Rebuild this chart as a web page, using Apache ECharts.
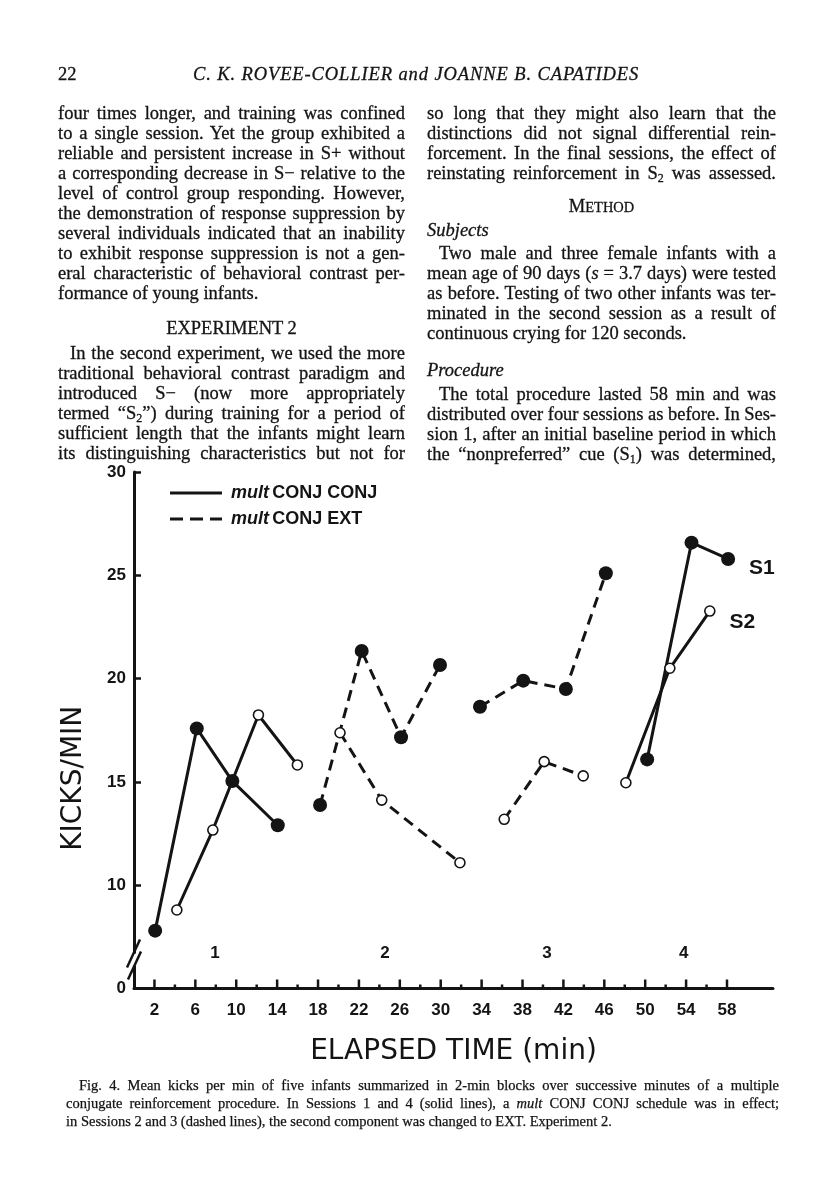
<!DOCTYPE html>
<html>
<head>
<meta charset="utf-8">
<script src="https://cdn.jsdelivr.net/npm/echarts@6/dist/echarts.min.js"></script>
<style>
html,body{margin:0;padding:0;background:#fff;}
#page{position:relative;width:816px;height:1200px;overflow:hidden;background:#fff;color:#141414;font-family:"Liberation Serif","DejaVu Serif",serif;}
#chart{position:absolute;left:0;top:0;width:816px;height:1200px;z-index:1;}
.ln{position:absolute;height:20px;line-height:20px;font-size:18.5px;white-space:nowrap;z-index:2;-webkit-text-stroke:0.3px #141414;}
.cap{font-size:14.5px;height:18px;line-height:18px;-webkit-text-stroke:0.25px #141414;}
sub{font-size:0.65em;vertical-align:-0.25em;line-height:0;}
</style>
</head>
<body>
<div id="page">
  <div id="chart"></div>
</div>
<script>
// ---------------- data ----------------
// [elapsed minute, kicks/min]
const sess1S1 = [[2.07, 7.80], [6.14, 17.59], [9.62, 15.04], [14.06, 12.90]];
const sess1S2 = [[4.19, 8.80], [7.71, 12.67], [12.17, 18.24], [15.98, 15.82]];
const sess2S1 = [[18.20, 13.88], [22.27, 21.34], [26.12, 17.16], [29.93, 20.66]];
const sess2S2 = [[20.15, 17.38], [24.23, 14.12], [31.88, 11.09]];
const sess3S1 = [[33.84, 18.64], [38.07, 19.90], [42.24, 19.50], [46.15, 25.10]];
const sess3S2 = [[36.21, 13.19], [40.12, 15.98], [43.94, 15.29]];
const sess4S1 = [[50.19, 16.09], [54.53, 26.58], [58.11, 25.79]];
const sess4S2 = [[48.11, 14.96], [52.41, 20.50], [56.32, 23.27]];

const xTickMinutes = [2, 4, 6, 8, 10, 12, 14, 16, 18, 20, 22, 24, 26, 28, 30, 32, 34, 36, 38, 40, 42, 44, 46, 48, 50, 52, 54, 56, 58];
const xTickLabels = [2, 6, 10, 14, 18, 22, 26, 30, 34, 38, 42, 46, 50, 54, 58];
const yTickValues = [5, 10, 15, 20, 25, 30];
const yTickLabels = ['0', '10', '15', '20', '25', '30'];

const sessionNames = ['1', '2', '3', '4'];
const sessionLabelAt = [[7.93, 6.72], [24.55, 6.72], [40.39, 6.72], [53.78, 6.72]];

const legendNames = ['mult CONJ CONJ', 'mult CONJ EXT'];
const stimulusNames = ['S1', 'S2'];

// ---------------- page text ----------------
const L = 58, LW = 347, R = 427, RW = 349;
const lines = [
  // [html, x, yCenter, width, mode]  mode: j=justify, l=left, c=center
  ['22', 58, 74, 40, 'l'],
  ['<i style="letter-spacing:0.9px">C. K. ROVEE-COLLIER and JOANNE B. CAPATIDES</i>', 150, 74, 532, 'c'],
  ['four times longer, and training was confined', L, 113, LW, 'j'],
  ['to a single session. Yet the group exhibited a', L, 133, LW, 'j'],
  ['reliable and persistent increase in S+ without', L, 153, LW, 'j'],
  ['a corresponding decrease in S\u2212 relative to the', L, 173, LW, 'j'],
  ['level of control group responding. However,', L, 193, LW, 'j'],
  ['the demonstration of response suppression by', L, 213, LW, 'j'],
  ['several individuals indicated that an inability', L, 233, LW, 'j'],
  ['to exhibit response suppression is not a gen-', L, 253, LW, 'j'],
  ['eral characteristic of behavioral contrast per-', L, 273, LW, 'j'],
  ['formance of young infants.', L, 293, LW, 'l'],
  ['EXPERIMENT 2', L, 328, LW, 'c'],
  ['In the second experiment, we used the more', L + 12, 353, LW - 12, 'j'],
  ['traditional behavioral contrast paradigm and', L, 373, LW, 'j'],
  ['introduced S\u2212 (now more appropriately', L, 393, LW, 'j'],
  ['termed \u201cS<sub>2</sub>\u201d) during training for a period of', L, 413, LW, 'j'],
  ['sufficient length that the infants might learn', L, 433, LW, 'j'],
  ['its distinguishing characteristics but not for', L, 453, LW, 'j'],
  ['so long that they might also learn that the', R, 113, RW, 'j'],
  ['distinctions did not signal differential rein-', R, 133, RW, 'j'],
  ['forcement. In the final sessions, the effect of', R, 153, RW, 'j'],
  ['reinstating reinforcement in S<sub>2</sub> was assessed.', R, 173, RW, 'j'],
  ['M<span style="font-size:0.78em">ETHOD</span>', R, 206, RW, 'c'],
  ['<i>Subjects</i>', R, 230, RW, 'l'],
  ['Two male and three female infants with a', R + 12, 253, RW - 12, 'j'],
  ['mean age of 90 days (<i>s</i> = 3.7 days) were tested', R, 273, RW, 'j'],
  ['as before. Testing of two other infants was ter-', R, 293, RW, 'j'],
  ['minated in the second session as a result of', R, 313, RW, 'j'],
  ['continuous crying for 120 seconds.', R, 333, RW, 'l'],
  ['<i>Procedure</i>', R, 370, RW, 'l'],
  ['The total procedure lasted 58 min and was', R + 12, 394, RW - 12, 'j'],
  ['distributed over four sessions as before. In Ses-', R, 414, RW, 'j'],
  ['sion 1, after an initial baseline period in which', R, 434, RW, 'j'],
  ['the \u201cnonpreferred\u201d cue (S<sub>1</sub>) was determined,', R, 454, RW, 'j']
];
const capLines = [
  ['Fig. 4. Mean kicks per min of five infants summarized in 2-min blocks over successive minutes of a multiple', 79, 1085, 700, 'j'],
  ['conjugate reinforcement procedure. In Sessions 1 and 4 (solid lines), a <i>mult</i> CONJ CONJ schedule was in effect;', 66, 1103, 713, 'j'],
  ['in Sessions 2 and 3 (dashed lines), the second component was changed to EXT. Experiment 2.', 66, 1121, 713, 'l']
];
const page = document.getElementById('page');
function placeLine(item, cls) {
  const [html, x, y, w, mode] = item;
  const d = document.createElement('div');
  d.className = 'ln' + (cls ? ' ' + cls : '');
  d.innerHTML = html;
  page.appendChild(d);
  const h = cls ? 18 : 20;
  d.style.left = x + 'px';
  d.style.top = (y - h / 2) + 'px';
  const natural = d.getBoundingClientRect().width;
  d.style.width = w + 'px';
  const txt = d.textContent;
  if (natural > w) {
    d.style.letterSpacing = ((w - natural) / txt.length) + 'px';
  } else if (mode === 'j') {
    const nSp = (txt.match(/ /g) || []).length;
    if (nSp) d.style.wordSpacing = ((w - natural) / nSp) + 'px';
  }
  if (mode === 'c') d.style.textAlign = 'center';
}
lines.forEach(l => placeLine(l, ''));
capLines.forEach(l => placeLine(l, 'cap'));

// ---------------- chart ----------------
const INK = '#141414';
const chart = echarts.init(document.getElementById('chart'), null, {renderer: 'canvas'});

function seg(data, dashed, filled, labelText, labelOffset) {
  const d = data.map((p, i) => {
    const item = {value: p};
    if (labelText && i === data.length - 1) {
      item.label = {
        show: true, formatter: labelText, position: 'right', offset: labelOffset,
        fontFamily: 'Liberation Sans', fontWeight: 'bold', fontSize: 21, color: INK
      };
    }
    return item;
  });
  return {
    type: 'line',
    name: dashed ? legendNames[1] : legendNames[0],
    data: d,
    symbol: 'circle',
    symbolSize: filled ? 14 : 10,
    showAllSymbol: true,
    color: INK,
    lineStyle: {color: INK, width: 3, type: dashed ? [11, 7] : 'solid'},
    itemStyle: filled ? {color: INK} : {color: '#fff', borderColor: INK, borderWidth: 1.6},
    z: filled ? 3 : 4,
    animation: false,
    silent: true,
    emphasis: {disabled: true}
  };
}

const option = {
  backgroundColor: 'transparent',
  animation: false,
  grid: {left: 134, top: 472, width: 639, height: 516.5, containLabel: false},
  legend: {
    orient: 'vertical', left: 165, top: 479, itemWidth: 52, itemHeight: 3, itemGap: 8,
    selectedMode: false,
    data: [
      {name: legendNames[0], icon: 'path://M0,0H52V3H0Z'},
      {name: legendNames[1], icon: 'path://M0,0H13V3H0Z M20,0H33V3H20Z M40,0H52V3H40Z'}
    ],
    itemStyle: {color: INK},
    formatter: n => '{i|mult} {b|' + n.slice(5) + '}',
    textStyle: {
      rich: {
        i: {fontFamily: 'Liberation Sans', fontStyle: 'italic', fontWeight: 'bold', fontSize: 18, color: INK, padding: [0, 0, 0, 4]},
        b: {fontFamily: 'Liberation Sans', fontWeight: 'bold', fontSize: 18, color: INK}
      }
    }
  },
  xAxis: {
    type: 'value', min: 0, max: 62.5, interval: 2,
    name: 'ELAPSED TIME (min)', nameLocation: 'middle', nameGap: 49,
    nameTextStyle: {fontFamily: 'DejaVu Sans', fontSize: 28, color: INK},
    axisLine: {lineStyle: {color: INK, width: 3}},
    axisTick: {show: false},
    splitLine: {show: false},
    axisLabel: {
      margin: 13, fontFamily: 'Liberation Sans', fontWeight: 'bold', fontSize: 17, color: INK,
      showMinLabel: false, showMaxLabel: false,
      formatter: v => (xTickLabels.indexOf(v) >= 0 ? String(v) : '')
    }
  },
  yAxis: {
    type: 'value', min: 5, max: 30, interval: 5,
    name: 'KICKS/MIN', nameLocation: 'middle', nameRotate: 90, nameGap: 46,
    nameTextStyle: {fontFamily: 'DejaVu Sans', fontSize: 28, color: INK, padding: [0, 96, 0, 0]},
    axisLine: {lineStyle: {color: INK, width: 3}},
    axisTick: {show: true, inside: true, length: 7, lineStyle: {color: INK, width: 2.5}},
    splitLine: {show: false},
    axisLabel: {
      margin: 8, fontFamily: 'Liberation Sans', fontWeight: 'bold', fontSize: 17, color: INK,
      formatter: v => yTickLabels[yTickValues.indexOf(v)]
    }
  },
  series: [
    {type: 'line', name: legendNames[0], data: [], symbol: 'none', color: INK, lineStyle: {color: INK, width: 3}},
    {type: 'line', name: legendNames[1], data: [], symbol: 'none', color: INK, lineStyle: {color: INK, width: 3, type: [11, 7]}},
    seg(sess1S1, false, true),
    seg(sess1S2, false, false),
    seg(sess2S1, true, true),
    seg(sess2S2, true, false),
    seg(sess3S1, true, true),
    seg(sess3S2, true, false),
    seg(sess4S1, false, true, stimulusNames[0], [9, 9]),
    seg(sess4S2, false, false, stimulusNames[1], [9, 11]),
    {
      type: 'custom', silent: true, z: 5,
      data: xTickMinutes.map(t => [t, 5]),
      renderItem: (params, api) => {
        const t = api.value(0);
        const p = api.coord([t, api.value(1)]);
        const len = xTickLabels.indexOf(t) >= 0 ? 9 : 4;
        return {type: 'line', shape: {x1: p[0], y1: p[1], x2: p[0], y2: p[1] - len},
          style: {stroke: INK, lineWidth: 2.5}};
      }
    },
    {
      type: 'custom', silent: true, z: 5,
      data: sessionLabelAt.map((p, i) => [p[0], p[1], i]),
      renderItem: (params, api) => {
        const p = api.coord([api.value(0), api.value(1)]);
        return {type: 'text', x: p[0], y: p[1],
          style: {text: sessionNames[api.value(2)], fill: INK, align: 'center', verticalAlign: 'middle',
            font: 'bold 17px "Liberation Sans"'}};
      }
    }
  ]
};
chart.setOption(option);

// axis break mark on the y axis (between 0 and the first value tick)
const bp = chart.convertToPixel({gridIndex: 0}, [0, 6.4]);
chart.setOption({
  graphic: [
    {type: 'rect', z: 100, shape: {x: bp[0] - 4, y: bp[1] - 6, width: 8, height: 12}, style: {fill: '#fff'}},
    {type: 'line', z: 101, shape: {x1: bp[0] - 7, y1: bp[1] + 8, x2: bp[0] + 6, y2: bp[1] - 20}, style: {stroke: INK, lineWidth: 2.5}},
    {type: 'line', z: 101, shape: {x1: bp[0] - 6, y1: bp[1] + 20, x2: bp[0] + 7, y2: bp[1] - 8}, style: {stroke: INK, lineWidth: 2.5}}
  ]
});
</script>
</body>
</html>
